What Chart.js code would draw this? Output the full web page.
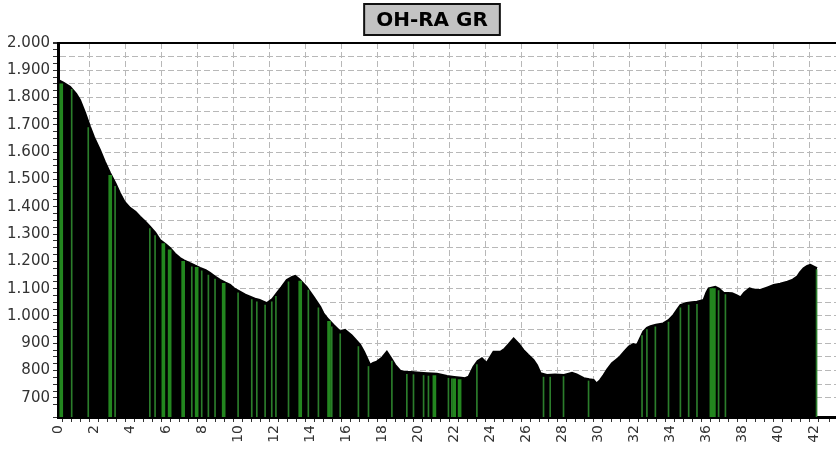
<!DOCTYPE html>
<html>
<head>
<meta charset="utf-8">
<title>OH-RA GR</title>
<script src="https://cdn.jsdelivr.net/npm/chart.js@4/dist/chart.umd.min.js"></script>
<style>
  body { margin: 0; background: #fff; }
  canvas { display: block; }
</style>
</head>
<body>
<canvas id="profile" width="836" height="450"></canvas>
<script>
const chartTitle = 'OH-RA GR';

// profile: distance (km) and elevation (m)
const km = [
    0, 0.3, 0.67, 1.0, 1.22, 1.5, 1.78, 2.0, 2.33, 2.6,
    2.89, 3.2, 3.44, 3.7, 4.0, 4.3, 4.56, 4.85, 5.11, 5.4,
    5.67, 6.0, 6.22, 6.5, 6.78, 7.0, 7.33, 7.6, 7.89, 8.2,
    8.44, 8.7, 9.0, 9.3, 9.56, 9.8, 10.1, 10.4, 10.67, 11.0,
    11.2, 11.6, 11.9, 12.15, 12.4, 12.7, 13.0, 13.17, 13.4, 13.8,
    14.18, 14.56, 14.74, 15.0, 15.3, 15.67, 15.94, 16.3, 16.5, 16.78,
    17.0, 17.33, 17.5, 17.7, 18.0, 18.26, 18.5, 18.72, 19.0, 19.18,
    19.6, 20.1, 20.5, 21.04, 21.3, 21.6, 22.0, 22.4, 22.6, 22.8,
    23.07, 23.3, 23.54, 23.8, 24.0, 24.18, 24.56, 24.8, 25.0, 25.3,
    25.6, 25.85, 26.1, 26.4, 26.6, 26.8, 27.15, 27.6, 28.1, 28.54,
    28.8, 29.2, 29.5, 29.74, 29.9, 30.1, 30.3, 30.5, 30.76, 31.0,
    31.2, 31.45, 31.7, 31.95, 32.15, 32.3, 32.5, 32.7, 32.9, 33.2,
    33.6, 33.9, 34.18, 34.4, 34.56, 34.9, 35.2, 35.48, 35.85, 36.0,
    36.13, 36.5, 36.7, 36.96, 37.43, 37.7, 37.9, 38.1, 38.4, 38.7,
    39.0, 39.4, 39.74, 40.1, 40.5, 40.8, 41.04, 41.2, 41.4, 41.6,
    41.78, 42.0, 42.15
];
const elevation = [
    1865, 1855, 1840, 1815, 1791, 1745, 1693, 1655, 1608, 1565,
    1524, 1485, 1450, 1418, 1396, 1382, 1364, 1345, 1327, 1305,
    1278, 1262, 1249, 1228, 1212, 1204, 1194, 1185, 1176, 1168,
    1158, 1145, 1132, 1122, 1114, 1100, 1089, 1078, 1071, 1062,
    1059, 1047, 1062, 1084, 1105, 1132, 1143, 1147, 1135, 1107,
    1071, 1034, 1010, 988, 967, 943, 949, 930, 915, 894,
    868, 821, 828, 833, 848, 869, 845, 821, 800, 796,
    795, 792, 790, 788, 785, 780, 777, 774, 772, 778,
    814, 835, 845, 828, 850, 869, 869, 880, 895, 918,
    897, 875, 858, 839, 820, 790, 784, 786, 784, 792,
    786, 772, 768, 766, 753, 765, 784, 805, 827, 840,
    851, 870, 888, 897, 894, 915, 943, 957, 963, 968,
    973, 985, 1004, 1025, 1040, 1048, 1050, 1052, 1059, 1085,
    1101, 1107, 1100, 1085, 1083, 1075, 1068, 1085, 1101, 1095,
    1095, 1105, 1114, 1118, 1126, 1133, 1144, 1160, 1175, 1183,
    1187, 1180, 1175
];

// green stripes (thin ones and wide ones), top of each stripe in m
const thinKm = [0.76, 1.68, 3.17, 5.1, 5.39, 7.43, 7.98, 8.35, 8.72, 10.0,
    10.76, 11.04, 11.5, 11.87, 12.1, 12.8, 13.9, 14.46, 15.2, 15.67,
    16.68, 17.24, 18.54, 19.37, 19.74, 20.3, 20.57, 21.68, 21.87, 23.26,
    26.96, 27.33, 28.07, 29.46, 32.43, 32.7, 33.17, 33.9, 34.56, 35.02,
    35.48, 36.68, 37.06, 42.12];
const thinTop = [1830, 1690, 1475, 1320, 1295, 1180, 1165, 1150, 1135, 1085,
    1060, 1052, 1040, 1052, 1072, 1125, 1095, 1030, 960, 935,
    888, 815, 835, 786, 785, 782, 780, 772, 770, 822,
    776, 776, 778, 762, 928, 950, 960, 978, 1030, 1040,
    1043, 1093, 1078, 1170];
const wideKm = [0.18, 2.9, 5.85, 6.2, 6.95, 7.7, 9.2, 13.45, 15.05, 20.9, 22.0, 22.3, 36.28, 36.42];
const wideTop = [1850, 1515, 1265, 1242, 1200, 1178, 1120, 1128, 980, 782, 770, 767, 1100, 1100];

// axis ranges and tick steps
const kmMin = 0, kmMax = 43.2, kmStep = 0.5, kmLabelStep = 2;
const eleMin = 630, eleMax = 2000, eleStep = 25, eleGridStep = 50, eleLabelStep = 100;

function fmtEle(v) {
    if (v < 1000) return String(v);
    return Math.floor(v / 1000) + '.' + String(v % 1000).padStart(3, '0');
}

const toPoints = (xs, ys) => xs.map((x, i) => ({ x: x, y: ys[i] }));

const gridGray = '#b8b8b8';
const gridDash = [6, 3];

const titleBox = {
    id: 'titleBox',
    afterDraw(chart) {
        const ctx = chart.ctx;
        ctx.save();
        ctx.font = 'bold 20px "DejaVu Sans"';
        const w = ctx.measureText(chartTitle).width + 24;
        const cx = 432, top = 4, h = 31;
        ctx.fillStyle = '#c3c3c3';
        ctx.fillRect(cx - w / 2, top, w, h);
        ctx.lineWidth = 2;
        ctx.strokeStyle = '#111';
        ctx.strokeRect(cx - w / 2, top, w, h);
        ctx.fillStyle = '#000';
        ctx.textAlign = 'center';
        ctx.textBaseline = 'middle';
        ctx.fillText(chartTitle, cx, top + h / 2 + 1);
        ctx.restore();
    }
};

Chart.defaults.font.family = '"DejaVu Sans", sans-serif';

new Chart(document.getElementById('profile'), {
    type: 'line',
    data: {
        datasets: [
            {
                type: 'bar',
                data: toPoints(wideKm, wideTop),
                backgroundColor: '#23861f',
                barThickness: 3,
                grouped: false,
                order: 0
            },
            {
                type: 'bar',
                data: toPoints(thinKm, thinTop),
                backgroundColor: '#2b7d2b',
                barThickness: 1,
                grouped: false,
                order: 0
            },
            {
                data: toPoints(km, elevation),
                borderColor: '#000',
                borderWidth: 2,
                backgroundColor: '#000',
                fill: 'start',
                pointRadius: 0,
                tension: 0,
                order: 1
            }
        ]
    },
    options: {
        responsive: false,
        animation: false,
        layout: { padding: { top: 43, left: 0, right: 0, bottom: 0 } },
        plugins: {
            legend: { display: false },
            tooltip: { enabled: false }
        },
        scales: {
            x: {
                type: 'linear',
                min: kmMin,
                max: kmMax,
                offset: false,
                ticks: {
                    stepSize: kmStep,
                    autoSkip: false,
                    minRotation: 90,
                    maxRotation: 90,
                    padding: 3,
                    color: '#333',
                    font: { size: 14 },
                    callback: v => (v % kmLabelStep === 0 ? String(v) : '')
                },
                grid: {
                    color: c => (c.tick && c.tick.value % kmLabelStep === 0 && c.tick.value > kmMin ? gridGray : 'transparent'),
                    tickColor: '#333',
                    tickLength: 5
                },
                border: { color: '#000', width: 3, dash: gridDash },
                afterFit(s) { s.height = 33; s.paddingLeft = 0; s.paddingRight = 0; }
            },
            y: {
                min: eleMin,
                max: eleMax,
                ticks: {
                    stepSize: eleStep,
                    autoSkip: false,
                    padding: 3,
                    color: '#333',
                    font: { size: 15 },
                    callback: v => (v % eleLabelStep === 0 ? fmtEle(v) : '')
                },
                grid: {
                    color: c => {
                        if (!c.tick) return 'transparent';
                        if (c.tick.value === eleMax) return '#000';
                        return c.tick.value % eleGridStep === 0 ? gridGray : 'transparent';
                    },
                    lineWidth: c => (c.tick && c.tick.value === eleMax ? 2 : 1),
                    tickColor: '#333',
                    tickLength: 5
                },
                border: {
                    color: '#000',
                    width: 3,
                    dash: c => (c.tick && c.tick.value === eleMax ? [] : gridDash)
                },
                afterFit(s) { s.width = 58; s.paddingTop = 0; s.paddingBottom = 0; }
            }
        }
    },
    plugins: [titleBox]
});
</script>
</body>
</html>
